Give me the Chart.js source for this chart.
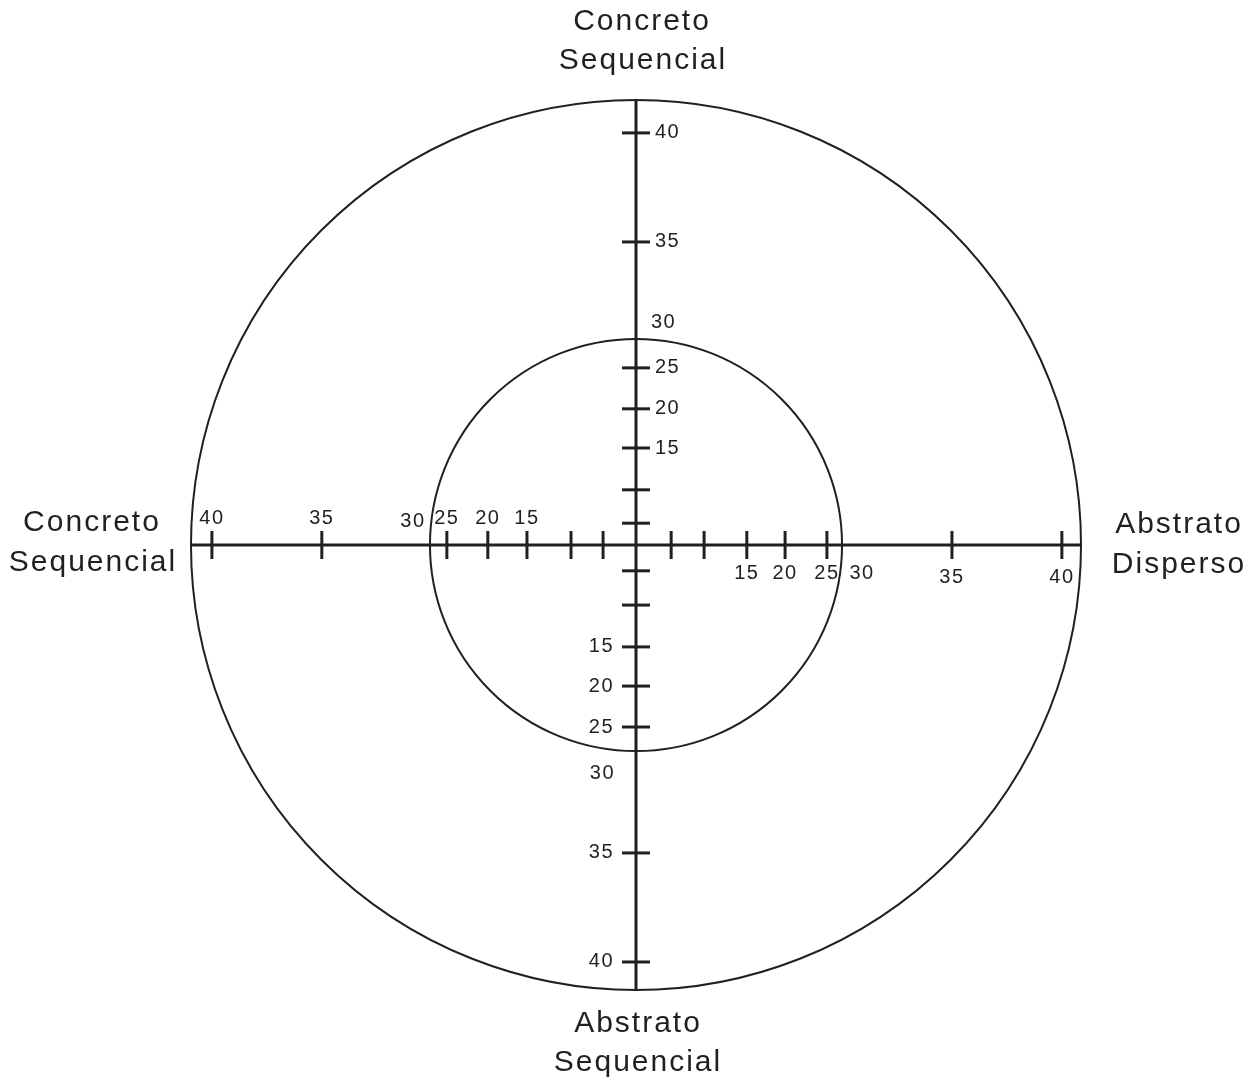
<!DOCTYPE html>
<html>
<head>
<meta charset="utf-8">
<script src="https://cdn.jsdelivr.net/npm/chart.js@4.4.1/dist/chart.umd.min.js"></script>
<style>
  html, body { margin: 0; padding: 0; background: #fff; }
  canvas { display: block; }
</style>
</head>
<body>
<canvas id="grafico" width="1258" height="1082"></canvas>
<script>
/* RÓTULOS DOS QUADRANTES (topo, direita, baixo, esquerda) */
const tituloTopo = ['Concreto', 'Sequencial'];
const tituloDireita = ['Abstrato', 'Disperso'];
const tituloBaixo = ['Abstrato', 'Sequencial'];
const tituloEsquerda = ['Concreto', 'Sequencial'];

/* VALORES DAS MARCAS (null = marca sem número) */
const valoresMarcas = [null, null, 15, 20, 25, 35, 40];

/* POSIÇÃO DE CADA MARCA NO EIXO (raio do círculo externo = 100) */
const posDireita  = [7.9, 15.3, 24.9, 33.5, 42.9, 71.0, 95.7];
const posEsquerda = [7.4, 14.6, 24.5, 33.3, 42.5, 70.6, 95.3];
const posTopo     = [4.9, 12.4, 21.8, 30.6, 39.8, 68.1, 92.6];
const posBaixo    = [5.8, 13.5, 22.9, 31.7, 40.9, 69.2, 93.7];

/* CÍRCULOS */
const raioInterno = 46.3;   // marca o valor 30
const valorInterno = 30;
const raioExterno = 100;

const COR = '#231f20';
const FONTE = '"Liberation Sans", Arial, Helvetica, sans-serif';

/* DESENHO DOS CÍRCULOS */
const pluginCirculos = {
  id: 'circulos',
  beforeDatasetsDraw(chart) {
    const { ctx, scales: { x, y } } = chart;
    const cx = x.getPixelForValue(0);
    const cy = y.getPixelForValue(0);
    ctx.save();
    ctx.strokeStyle = COR;
    ctx.lineWidth = 2;
    [raioInterno, raioExterno].forEach(r => {
      const rp = x.getPixelForValue(r) - cx;
      ctx.beginPath();
      ctx.arc(cx, cy, rp, 0, Math.PI * 2);
      ctx.stroke();
    });
    ctx.restore();
  },
};

/* NÚMEROS DAS MARCAS E TÍTULOS */
const pluginTextos = {
  id: 'textos',
  afterDraw(chart) {
    const { ctx, scales: { x, y } } = chart;
    const cx = x.getPixelForValue(0);
    const cy = y.getPixelForValue(0);
    ctx.save();
    ctx.fillStyle = COR;
    ctx.font = `20px ${FONTE}`;
    ctx.letterSpacing = '1.5px';
    ctx.textBaseline = 'middle';

    /* Topo: à direita do eixo */
    ctx.textAlign = 'left';
    valoresMarcas.forEach((v, i) => {
      if (v !== null) ctx.fillText(v, cx + 19, y.getPixelForValue(posTopo[i]));
    });
    ctx.fillText(valorInterno, cx + 15, y.getPixelForValue(raioInterno) - 16);

    /* Baixo: à esquerda do eixo */
    ctx.textAlign = 'right';
    valoresMarcas.forEach((v, i) => {
      if (v !== null) ctx.fillText(v, cx - 22, y.getPixelForValue(-posBaixo[i]));
    });
    ctx.fillText(valorInterno, cx - 21, y.getPixelForValue(-raioInterno) + 22);

    /* Direita: abaixo do eixo */
    ctx.textAlign = 'center';
    valoresMarcas.forEach((v, i) => {
      if (v !== null) ctx.fillText(v, x.getPixelForValue(posDireita[i]), cy + (v > 30 ? 32 : 28));
    });
    ctx.fillText(valorInterno, x.getPixelForValue(raioInterno) + 20, cy + 28);

    /* Esquerda: acima do eixo */
    valoresMarcas.forEach((v, i) => {
      if (v !== null) ctx.fillText(v, x.getPixelForValue(-posEsquerda[i]), cy - 27);
    });
    ctx.fillText(valorInterno, x.getPixelForValue(-raioInterno) - 17, cy - 24);

    /* Títulos */
    ctx.font = `30px ${FONTE}`;
    ctx.letterSpacing = '2px';
    const topo = y.getPixelForValue(raioExterno);
    const baixo = y.getPixelForValue(-raioExterno);
    const esq = x.getPixelForValue(-raioExterno);
    const dir = x.getPixelForValue(raioExterno);
    ctx.fillText(tituloTopo[0], cx + 6, topo - 78);
    ctx.fillText(tituloTopo[1], cx + 7, topo - 39);
    ctx.fillText(tituloBaixo[0], cx + 2, baixo + 34);
    ctx.fillText(tituloBaixo[1], cx + 2, baixo + 73);
    ctx.fillText(tituloEsquerda[0], esq - 99, cy - 22);
    ctx.fillText(tituloEsquerda[1], esq - 98, cy + 18);
    ctx.fillText(tituloDireita[0], dir + 98, cy - 20);
    ctx.fillText(tituloDireita[1], dir + 98, cy + 20);
    ctx.restore();
  },
};

/* DATASETS */
const eixoH = [{ x: -raioExterno, y: 0 }, { x: raioExterno, y: 0 }];
const eixoV = [{ x: 0, y: -raioExterno }, { x: 0, y: raioExterno }];

function marcas(pontos, rotacao) {
  return {
    type: 'scatter',
    data: pontos,
    pointStyle: 'line',
    rotation: rotacao,
    pointRadius: 14,
    pointHoverRadius: 14,
    borderWidth: 3,
    borderColor: COR,
    backgroundColor: COR,
  };
}

function eixo(pontos) {
  return {
    type: 'line',
    data: pontos,
    borderColor: COR,
    borderWidth: 3,
    pointRadius: 0,
    borderCapStyle: 'butt',
  };
}

new Chart(document.getElementById('grafico'), {
  data: {
    datasets: [
      eixo(eixoH),
      eixo(eixoV),
      marcas(posDireita.map(p => ({ x: p, y: 0 })), 90),
      marcas(posEsquerda.map(p => ({ x: -p, y: 0 })), 90),
      marcas(posTopo.map(p => ({ x: 0, y: p })), 0),
      marcas(posBaixo.map(p => ({ x: 0, y: -p })), 0),
    ],
  },
  options: {
    responsive: false,
    animation: false,
    layout: { padding: { left: 186, right: 172, top: 95, bottom: 87 } },
    plugins: {
      legend: { display: false },
      tooltip: { enabled: false },
    },
    scales: {
      x: { type: 'linear', min: -101.12, max: 101.12, display: false },
      y: { type: 'linear', min: -101.12, max: 101.12, display: false },
    },
  },
  plugins: [pluginCirculos, pluginTextos],
});
</script>
</body>
</html>
